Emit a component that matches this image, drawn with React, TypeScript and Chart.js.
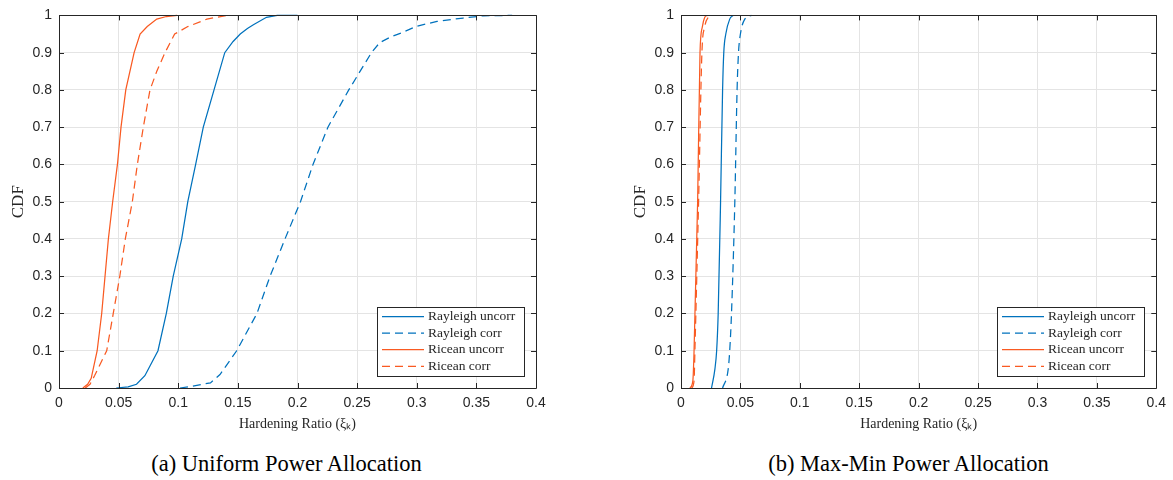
import React, { useEffect, useRef } from 'react';
import { Chart, registerables } from 'chart.js';

Chart.register(...registerables);

// ---------- Tick labels / categories ----------
const xTicks = [0, 0.05, 0.1, 0.15, 0.2, 0.25, 0.3, 0.35, 0.4];
const yTicks = [0, 0.1, 0.2, 0.3, 0.4, 0.5, 0.6, 0.7, 0.8, 0.9, 1];
const seriesLabels = ['Rayleigh uncorr', 'Rayleigh corr', 'Ricean uncorr', 'Ricean corr'];
const captions = ['(a) Uniform Power Allocation', '(b) Max-Min Power Allocation'];
const xTitle = 'Hardening Ratio (ξₖ)';
const yTitle = 'CDF';

// ---------- (a) Uniform power allocation ----------
const uniRayUncorrX = [0.048, 0.058, 0.065, 0.072, 0.083, 0.09, 0.0958, 0.1029, 0.108, 0.1146, 0.121, 0.13, 0.139, 0.146, 0.152, 0.158, 0.163, 0.174, 0.183, 0.2];
const uniRayUncorrY = [0, 0.003, 0.01, 0.033, 0.1, 0.2, 0.3, 0.4, 0.5, 0.6, 0.7, 0.8, 0.9, 0.93, 0.95, 0.965, 0.975, 0.995, 1, 1];

const uniRayCorrX = [0.1015, 0.112, 0.127, 0.135, 0.149, 0.166, 0.177, 0.1895, 0.2025, 0.213, 0.2255, 0.243, 0.262, 0.269, 0.278, 0.287, 0.3, 0.317, 0.339, 0.356, 0.38];
const uniRayCorrY = [0, 0.005, 0.0138, 0.036, 0.1, 0.2, 0.3, 0.4, 0.5, 0.6, 0.7, 0.8, 0.9, 0.927, 0.942, 0.953, 0.971, 0.984, 0.993, 0.999, 1];

const uniRicUncorrX = [0.02, 0.024, 0.027, 0.032, 0.0358, 0.0386, 0.0414, 0.045, 0.049, 0.052, 0.056, 0.063, 0.068, 0.074, 0.082, 0.09, 0.099];
const uniRicUncorrY = [0, 0.01, 0.026, 0.1, 0.2, 0.3, 0.4, 0.5, 0.6, 0.7, 0.8, 0.9, 0.95, 0.97, 0.99, 0.997, 1];

const uniRicCorrX = [0.022, 0.026, 0.03, 0.04, 0.0455, 0.051, 0.0556, 0.0615, 0.0657, 0.0707, 0.0763, 0.082, 0.0889, 0.097, 0.108, 0.124, 0.141];
const uniRicCorrY = [0, 0.01, 0.034, 0.1, 0.2, 0.3, 0.4, 0.5, 0.6, 0.7, 0.8, 0.85, 0.9, 0.95, 0.97, 0.99, 1];

// ---------- (b) Max-min power allocation ----------
const mmRayUncorrX = [0.0257, 0.0285, 0.03, 0.0313, 0.0333, 0.035, 0.036, 0.0377, 0.041, 0.0439];
const mmRayUncorrY = [0, 0.05, 0.1, 0.2, 0.5, 0.8, 0.9, 0.95, 0.99, 1];

const mmRayCorrX = [0.035, 0.0397, 0.041, 0.0425, 0.0453, 0.0472, 0.0484, 0.05, 0.0537, 0.0593];
const mmRayCorrY = [0, 0.05, 0.1, 0.2, 0.5, 0.8, 0.9, 0.95, 0.99, 1];

const mmRicUncorrX = [0.0075, 0.01, 0.011, 0.014, 0.016, 0.018, 0.02, 0.022];
const mmRicUncorrY = [0, 0.02, 0.1, 0.5, 0.9, 0.97, 0.995, 1];

const mmRicCorrX = [0.009, 0.011, 0.0117, 0.0148, 0.0176, 0.02, 0.023, 0.0257];
const mmRicCorrY = [0, 0.02, 0.1, 0.5, 0.9, 0.97, 0.995, 1];

// ---------- styles ----------
const BLUE = '#0072BD';
const ORANGE = '#F95A22';
const AXIS = '#262626';
const GRID = '#e4e4e4';
const seriesColors = [BLUE, BLUE, ORANGE, ORANGE];
const seriesDashes: number[][] = [[], [8, 5], [], [8, 5]];

const framePlugin = {
  id: 'matlabFrame',
  afterDraw(chart: any) {
    const { ctx, chartArea: a, scales } = chart;
    const L = 5;
    ctx.save();
    ctx.strokeStyle = AXIS;
    ctx.lineWidth = 1;
    ctx.setLineDash([]);
    ctx.beginPath();
    ctx.rect(Math.round(a.left) + 0.5, Math.round(a.top) + 0.5, Math.round(a.right - a.left), Math.round(a.bottom - a.top));
    ctx.stroke();
    ctx.beginPath();
    scales.x.ticks.forEach((t: any) => {
      const px = Math.round(scales.x.getPixelForValue(t.value)) + 0.5;
      ctx.moveTo(px, a.bottom);
      ctx.lineTo(px, a.bottom - L);
      ctx.moveTo(px, a.top);
      ctx.lineTo(px, a.top + L);
    });
    scales.y.ticks.forEach((t: any) => {
      const py = Math.round(scales.y.getPixelForValue(t.value)) + 0.5;
      ctx.moveTo(a.left, py);
      ctx.lineTo(a.left + L, py);
      ctx.moveTo(a.right, py);
      ctx.lineTo(a.right - L, py);
    });
    ctx.stroke();
    ctx.restore();
  },
};

const legendPlugin = {
  id: 'boxLegend',
  afterDraw(chart: any) {
    const { ctx, chartArea: a } = chart;
    const w = 147;
    const h = 69;
    const x0 = Math.round(a.right - 12 - w);
    const y0 = Math.round(a.bottom - 12 - h);
    ctx.save();
    ctx.fillStyle = '#fff';
    ctx.fillRect(x0, y0, w, h);
    ctx.strokeStyle = AXIS;
    ctx.lineWidth = 1;
    ctx.strokeRect(x0 + 0.5, y0 + 0.5, w, h);
    ctx.font = '13.5px "Liberation Serif"';
    ctx.textBaseline = 'middle';
    ctx.textAlign = 'left';
    chart.data.datasets.forEach((ds: any, i: number) => {
      const cy = y0 + 9.5 + i * 16.6;
      ctx.strokeStyle = ds.borderColor;
      ctx.lineWidth = ds.borderWidth;
      ctx.setLineDash(ds.borderDash || []);
      ctx.beginPath();
      ctx.moveTo(x0 + 5, cy);
      ctx.lineTo(x0 + 47, cy);
      ctx.stroke();
      ctx.setLineDash([]);
      ctx.fillStyle = AXIS;
      ctx.fillText(ds.label, x0 + 51, cy);
    });
    ctx.restore();
  },
};

type Series = { xs: number[]; ys: number[] };

function Panel(props: { left: number; width: number; padTop: number; padRight: number; series: Series[]; smooth: boolean }) {
  const ref = useRef<HTMLCanvasElement | null>(null);
  useEffect(() => {
    if (!ref.current) return;
    const datasets = props.series.map((s, i) => ({
      label: seriesLabels[i],
      data: s.xs.map((x, j) => ({ x, y: s.ys[j] })),
      borderColor: seriesColors[i],
      backgroundColor: seriesColors[i],
      borderWidth: 1.25,
      borderDash: seriesDashes[i],
      pointRadius: 0,
      showLine: true,
      fill: false,
      tension: 0,
      cubicInterpolationMode: props.smooth ? 'monotone' : 'default',
      clip: 6,
    }));
    const chart = new Chart(ref.current, {
      type: 'scatter',
      data: { datasets } as any,
      options: {
        animation: false,
        responsive: false,
        layout: { padding: { top: props.padTop, right: props.padRight, left: 0, bottom: 0 } },
        plugins: { legend: { display: false }, tooltip: { enabled: false } },
        scales: {
          x: {
            type: 'linear',
            min: xTicks[0],
            max: xTicks[xTicks.length - 1],
            afterBuildTicks: (scale: any) => {
              scale.ticks = xTicks.map((v) => ({ value: v }));
            },
            afterFit: (scale: any) => {
              scale.height = 52;
            },
            grid: { color: GRID, drawTicks: false, lineWidth: 1 },
            border: { display: false },
            ticks: {
              padding: 7,
              color: AXIS,
              font: { family: 'Liberation Sans', size: 14 },
              maxRotation: 0,
              autoSkip: false,
              callback: (v: any) => String(v),
            },
            title: {
              display: true,
              text: xTitle,
              color: AXIS,
              font: { family: 'Liberation Serif', size: 14 },
              padding: { top: 0, bottom: 7 },
            },
          },
          y: {
            type: 'linear',
            min: yTicks[0],
            max: yTicks[yTicks.length - 1],
            afterBuildTicks: (scale: any) => {
              scale.ticks = yTicks.map((v) => ({ value: v }));
            },
            afterFit: (scale: any) => {
              scale.width = 59;
            },
            grid: { color: GRID, drawTicks: false, lineWidth: 1 },
            border: { display: false },
            ticks: {
              padding: 7,
              color: AXIS,
              font: { family: 'Liberation Sans', size: 14 },
              autoSkip: false,
              callback: (v: any) => String(v),
            },
            title: {
              display: true,
              text: yTitle,
              color: AXIS,
              font: { family: 'Liberation Serif', size: 17 },
              padding: { top: 8, bottom: 0 },
            },
          },
        },
      } as any,
      plugins: [framePlugin, legendPlugin],
    });
    return () => chart.destroy();
  }, []);
  return (
    <canvas
      ref={ref}
      width={props.width}
      height={440}
      style={{ position: 'absolute', left: props.left, top: 0, width: props.width, height: 440 }}
    />
  );
}

export default function App() {
  const uniform: Series[] = [
    { xs: uniRayUncorrX, ys: uniRayUncorrY },
    { xs: uniRayCorrX, ys: uniRayCorrY },
    { xs: uniRicUncorrX, ys: uniRicUncorrY },
    { xs: uniRicCorrX, ys: uniRicCorrY },
  ];
  const maxmin: Series[] = [
    { xs: mmRayUncorrX, ys: mmRayUncorrY },
    { xs: mmRayCorrX, ys: mmRayCorrY },
    { xs: mmRicUncorrX, ys: mmRicUncorrY },
    { xs: mmRicCorrX, ys: mmRicCorrY },
  ];
  const capStyle: React.CSSProperties = {
    position: 'absolute',
    top: 451,
    width: 477,
    textAlign: 'center',
    fontFamily: '"Liberation Serif", serif',
    fontSize: 22.5,
    lineHeight: '26px',
    color: '#000',
    whiteSpace: 'nowrap',
  };
  return (
    <div style={{ position: 'fixed', left: 0, top: 0, width: 1173, height: 480, background: '#fff', overflow: 'hidden' }}>
      <Panel left={0} width={560} padTop={14} padRight={24} series={uniform} smooth={false} />
      <Panel left={622} width={551} padTop={11} padRight={15} series={maxmin} smooth={true} />
      <div style={{ ...capStyle, left: 48 }}>{captions[0]}</div>
      <div style={{ ...capStyle, left: 670 }}>{captions[1]}</div>
    </div>
  );
}
